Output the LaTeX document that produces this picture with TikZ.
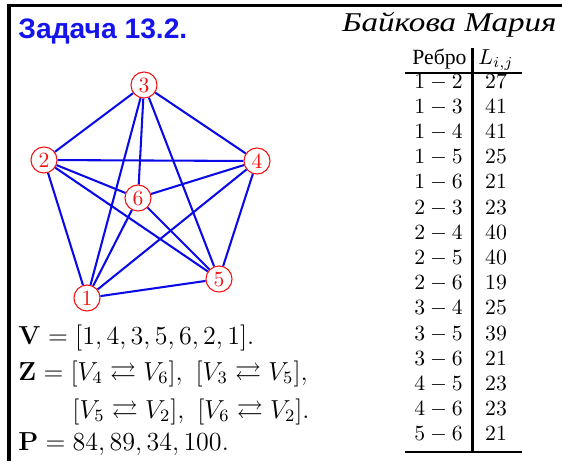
\documentclass[tikz,border=0pt]{standalone}
\usepackage{amsmath,amssymb}
\usepackage[no-math]{fontspec}
\newfontfamily\cyrserif{Liberation Serif}
\newfontfamily\authorfont[FakeStretch=1.22]{Liberation Serif}
\newfontfamily\titlefont{Liberation Sans}
\definecolor{ttl}{RGB}{20,20,235}
\definecolor{edgeblue}{RGB}{10,10,230}
\definecolor{vred}{RGB}{240,20,20}
\tikzset{
  vtx/.style={circle,draw=vred,line width=0.5pt,fill=white,text=vred,minimum size=12pt,inner sep=0pt,font=\normalsize},
  edge/.style={draw=edgeblue,line width=0.95pt},
  txt/.style={inner sep=0pt,anchor=base west},
  cell/.style={inner sep=0pt,anchor=base,font=\normalsize},
  rule/.style={line width=1.1pt},
  frame/.style={line width=1.4pt}
}
\begin{document}
\begin{tikzpicture}[x=0.4608pt,y=-0.4608pt]
\useasboundingbox (0,0) rectangle (562,461);
% frame
\coordinate (fb) at (9,461);
\coordinate (fc) at (9,5.5);
\coordinate (fr) at (562,5.5);
\draw[frame] (fb) -- (fc) -- (fr);
% title and author
\node[txt,text=ttl,font=\titlefont\bfseries\fontsize{13}{15}\selectfont] (title) at (18,38) {Задача 13.2.};
\node[inner sep=0pt,anchor=base east,font=\authorfont\itshape\fontsize{12.5}{14}\selectfont] (author) at (557,31) {Байкова Мария};
% graph
\node[vtx] (n1) at (87,298) {1};
\node[vtx] (n2) at (44,160) {2};
\node[vtx] (n3) at (144,85) {3};
\node[vtx] (n4) at (257,161) {4};
\node[vtx] (n5) at (219,279) {5};
\node[vtx] (n6) at (138,198) {6};
\foreach \a/\b in {1/2,1/3,1/4,1/5,1/6,2/3,2/4,2/5,2/6,3/4,3/5,3/6,4/5,4/6,5/6}
  \draw[edge] (n\a) -- (n\b);
% bottom text
\node[txt,font=\large] (vline) at (18,344) {$\mathbf{V}=[1,4,3,5,6,2,1].$};
\node[txt,font=\large] (zline) at (18,380) {$\mathbf{Z}=[V_4\rightleftarrows V_6],\ [V_3\rightleftarrows V_5],$};
\node[txt,font=\large] (zline2) at (72,418) {$[V_5\rightleftarrows V_2],\ [V_6\rightleftarrows V_2].$};
\node[txt,font=\large] (pline) at (18,450) {$\mathbf{P}=84,89,34,100.$};
% table
\node[cell,font=\cyrserif\normalsize] (hA) at (439.5,64) {Ребро};
\node[cell] (hB) at (496,64) {$L_{i,j}$};
\coordinate (vt) at (472.3,48);
\coordinate (vb) at (472.3,452);
\coordinate (t1) at (405,73);
\coordinate (t2) at (522,73);
\coordinate (b1) at (405,452);
\coordinate (b2) at (522,452);
\draw[rule] (vt) -- (vb);
\draw[rule] (t1) -- (t2);
\draw[rule] (b1) -- (b2);
\foreach \i/\j/\L [count=\k from 0] in {1/2/27,1/3/41,1/4/41,1/5/25,1/6/21,2/3/23,2/4/40,2/5/40,2/6/19,3/4/25,3/5/39,3/6/21,4/5/23,4/6/23,5/6/21}{
  \node[cell] (r\k a) at (438.5,88+25.2*\k) {$\i-\j$};
  \node[cell] (r\k b) at (496,88+25.2*\k) {$\L$};
}
\end{tikzpicture}
\end{document}
